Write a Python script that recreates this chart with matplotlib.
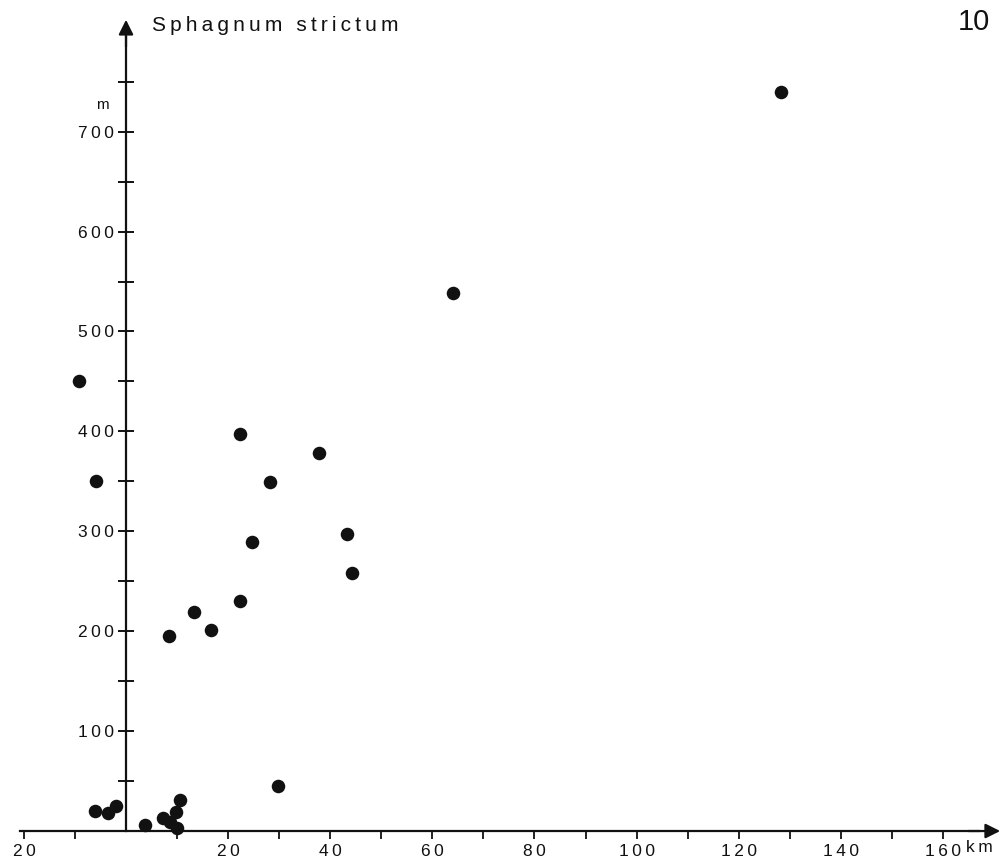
import matplotlib
matplotlib.use('Agg')
import matplotlib.pyplot as plt

# ---- data ----
dist_km = [128.2, 64.1, -9.2, -5.9, 22.4, 37.7, 28.2, 43.3, 24.7, 44.3,
           22.4, 13.4, 16.7, 8.4, 29.8, -6.1, -3.5, -2.0, 3.7, 7.2,
           8.6, 9.9, 9.8, 10.6]
alt_m = [740, 539, 450, 350, 397, 378, 349, 297, 289, 258,
         230, 219, 201, 195, 45, 20, 18, 25, 6, 13,
         9, 3, 19, 31]

y_ticks = [50, 100, 150, 200, 250, 300, 350, 400, 450, 500, 550, 600, 650, 700, 750]
y_labels = ['', '100', '', '200', '', '300', '', '400', '', '500', '', '600', '', '700', '']
x_ticks = [-20, -10, 10, 20, 30, 40, 50, 60, 70, 80, 90, 100, 110, 120, 130, 140, 150, 160]
x_labels = ['20', '', '', '20', '', '40', '', '60', '', '80', '', '100', '', '120', '', '140', '', '160']

title = 'Sphagnum strictum'
fig_number = '10'
y_unit = 'm'
x_unit = 'km'

TS = '\u2009'  # thin space for the letter-spaced lettering


def spaced(s):
    return TS.join(list(s))


plt.rcParams['font.family'] = ['Liberation Sans', 'DejaVu Sans']

fig = plt.figure(figsize=(10.02, 8.61), dpi=100)
ax = fig.add_axes([0, 0, 1, 1])
ax.set_xlim(-24.68, 171.56)
ax.set_ylim(-30.0, 831.8)
ax.patch.set_alpha(0)

for s in ['top', 'right']:
    ax.spines[s].set_visible(False)
ax.spines['left'].set_position(('data', 0))
ax.spines['bottom'].set_position(('data', 0))
ax.spines['left'].set_bounds(0, 795)
ax.spines['bottom'].set_bounds(-20.8, 167)
for s in ['left', 'bottom']:
    ax.spines[s].set_linewidth(1.6)
    ax.spines[s].set_color('#111111')

ax.set_yticks(y_ticks, [spaced(l) for l in y_labels])
ax.set_xticks(x_ticks, [spaced(l) for l in x_labels])
ax.tick_params(axis='y', direction='inout', length=12, width=1.4, pad=3,
               labelsize=12.5, colors='#111111')
ax.tick_params(axis='x', direction='out', length=6, width=1.3, pad=3,
               labelsize=12.5, colors='#111111')

# axis arrows
ax.annotate('', xy=(0, 812), xytext=(0, 785),
            arrowprops=dict(arrowstyle='-|>', lw=1.6, color='#111111',
                            mutation_scale=22, shrinkA=0, shrinkB=0))
ax.annotate('', xy=(171.2, 0), xytext=(165, 0),
            arrowprops=dict(arrowstyle='-|>', lw=1.6, color='#111111',
                            mutation_scale=22, shrinkA=0, shrinkB=0))

ax.scatter(dist_km, alt_m, s=95, color='#111111', zorder=3, clip_on=False,
           linewidths=0)

# texts
ax.text(5, 806, spaced(title), fontsize=15, ha='left', va='center', color='#111111')
ax.text(-4.6, 727, y_unit, fontsize=11, ha='center', va='center', color='#111111')
ax.text(164.5, -16, spaced(x_unit), fontsize=12.5, ha='left', va='center', color='#111111')
fig.text(0.972, 0.974, fig_number, fontsize=21, ha='center', va='center', color='#111111')

fig.savefig('out.png', dpi=100)
